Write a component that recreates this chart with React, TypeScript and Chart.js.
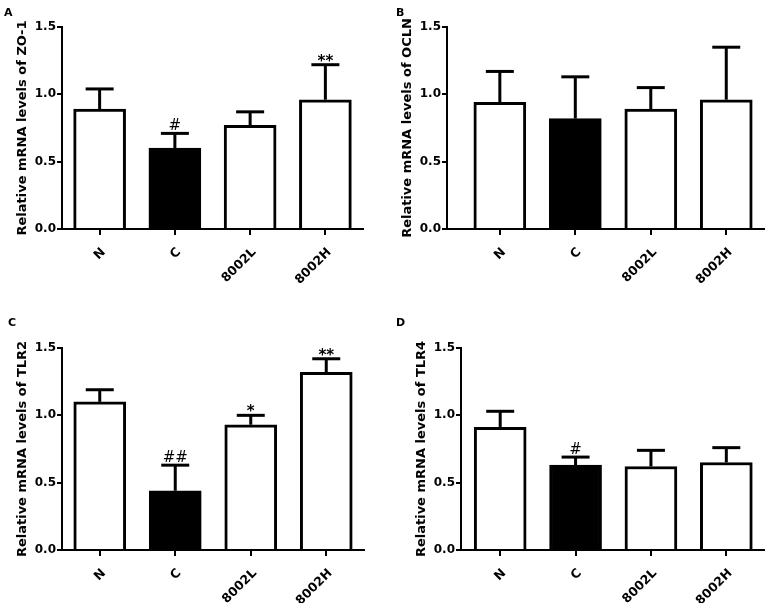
import React, { useEffect, useRef } from "react";
import { Chart, registerables } from "chart.js";

Chart.register(...registerables);

const categories = ["N", "C", "8002L", "8002H"];
const yTicks = [0, 0.5, 1.0, 1.5];
const barFills = ["#ffffff", "#000000", "#ffffff", "#ffffff"];

const zo1Means = [0.89, 0.6, 0.77, 0.96];
const zo1Upper = [1.04, 0.71, 0.87, 1.22];
const zo1Marks = ["", "#", "", "**"];

const oclnMeans = [0.94, 0.82, 0.89, 0.96];
const oclnUpper = [1.17, 1.13, 1.05, 1.35];
const oclnMarks = ["", "", "", ""];

const tlr2Means = [1.1, 0.44, 0.93, 1.32];
const tlr2Upper = [1.19, 0.63, 1.0, 1.42];
const tlr2Marks = ["", "##", "*", "**"];

const tlr4Means = [0.91, 0.63, 0.62, 0.65];
const tlr4Upper = [1.03, 0.69, 0.74, 0.76];
const tlr4Marks = ["", "#", "", ""];

const FONT = "'DejaVu Sans', 'Liberation Sans', Arial, sans-serif";

type Panel = {
  letter: string;
  title: string;
  means: number[];
  upper: number[];
  marks: string[];
  left: number;
  top: number;
  width: number;
  height: number;
  padTop: number;
  padRight: number;
  yWidth: number;
  xHeight: number;
  titleX: number;
  xMin: number;
  letterX: number;
  letterY: number;
};

const panels: Panel[] = [
  {
    letter: "A", title: "Relative mRNA levels of ZO-1",
    means: zo1Means, upper: zo1Upper, marks: zo1Marks,
    left: 0, top: 0, width: 384, height: 300,
    padTop: 27, padRight: 21, yWidth: 62, xHeight: 71, titleX: 22.5, xMin: -0.5,
    letterX: 4, letterY: 16,
  },
  {
    letter: "B", title: "Relative mRNA levels of OCLN",
    means: oclnMeans, upper: oclnUpper, marks: oclnMarks,
    left: 384, top: 0, width: 383, height: 300,
    padTop: 27, padRight: 3, yWidth: 63, xHeight: 71, titleX: 23.5, xMin: -0.7,
    letterX: 12, letterY: 16,
  },
  {
    letter: "C", title: "Relative mRNA levels of TLR2",
    means: tlr2Means, upper: tlr2Upper, marks: tlr2Marks,
    left: 0, top: 300, width: 384, height: 303,
    padTop: 48, padRight: 20, yWidth: 62, xHeight: 53, titleX: 22.5, xMin: -0.5,
    letterX: 8, letterY: 26,
  },
  {
    letter: "D", title: "Relative mRNA levels of TLR4",
    means: tlr4Means, upper: tlr4Upper, marks: tlr4Marks,
    left: 384, top: 300, width: 383, height: 303,
    padTop: 48, padRight: 3, yWidth: 77, xHeight: 53, titleX: 37.5, xMin: -0.52,
    letterX: 12, letterY: 26,
  },
];

function PanelChart({ p }: { p: Panel }) {
  const ref = useRef<HTMLCanvasElement>(null);
  useEffect(() => {
    if (!ref.current) return;
    const titleSize = 13;
    const titleLH = titleSize * 1.2;
    const overlay = {
      id: "errorBarsAndMarks",
      afterDatasetsDraw(chart: any) {
        const ctx = chart.ctx;
        const xs = chart.scales.x;
        const ys = chart.scales.y;
        ctx.save();
        ctx.strokeStyle = "#000";
        ctx.fillStyle = "#000";
        ctx.lineWidth = 3;
        ctx.lineCap = "butt";
        p.means.forEach((m, i) => {
          const x = xs.getPixelForValue(i);
          const yb = ys.getPixelForValue(m);
          const yt = ys.getPixelForValue(p.upper[i]);
          ctx.beginPath();
          ctx.moveTo(x, yb);
          ctx.lineTo(x, yt);
          ctx.stroke();
          ctx.beginPath();
          ctx.moveTo(x - 14, yt);
          ctx.lineTo(x + 14, yt);
          ctx.stroke();
          const mk = p.marks[i];
          if (mk) {
            ctx.textAlign = "center";
            ctx.textBaseline = "alphabetic";
            if (mk.startsWith("*")) {
              ctx.font = `bold 15px ${FONT}`;
              ctx.fillText(mk, x, yt + 1);
            } else {
              ctx.font = `15px ${FONT}`;
              ctx.fillText(mk, x, yt - 3);
            }
          }
        });
        ctx.font = `bold 11px ${FONT}`;
        ctx.textAlign = "left";
        ctx.textBaseline = "alphabetic";
        ctx.fillText(p.letter, p.letterX, p.letterY);
        ctx.restore();
      },
    };
    const chart = new Chart(ref.current, {
      type: "bar",
      data: {
        datasets: [
          {
            data: p.means.map((v, i) => ({ x: i, y: v })),
            backgroundColor: barFills,
            borderColor: "#000",
            borderWidth: 3,
            barThickness: 52,
            borderSkipped: "start",
          },
        ],
      },
      options: {
        responsive: false,
        animation: false,
        devicePixelRatio: 1,
        layout: { padding: { top: p.padTop, right: p.padRight, left: 0, bottom: 0 } },
        plugins: { legend: { display: false }, tooltip: { enabled: false } },
        scales: {
          x: {
            type: "linear",
            offset: false,
            min: p.xMin,
            max: 3.5,
            afterBuildTicks: (s: any) => {
              s.ticks = categories.map((_, i) => ({ value: i }));
            },
            afterFit: (s: any) => {
              s.height = p.xHeight;
            },
            ticks: {
              autoSkip: false,
              minRotation: 45,
              maxRotation: 45,
              padding: 10,
              labelOffset: 4,
              color: "#000",
              font: { family: FONT, size: 12.5, weight: "bold" },
              callback: (v: any) => categories[v] ?? "",
            },
            grid: { offset: false, drawOnChartArea: false, drawTicks: true, tickLength: 6, color: "#000", lineWidth: 2 },
            border: { display: true, color: "#000", width: 2 },
          },
          y: {
            type: "linear",
            min: 0,
            max: 1.5,
            afterBuildTicks: (s: any) => {
              s.ticks = yTicks.map((v) => ({ value: v }));
            },
            afterFit: (s: any) => {
              s.width = p.yWidth;
            },
            ticks: {
              padding: 1,
              color: "#000",
              font: { family: FONT, size: 12, weight: "bold" },
              callback: (v: any) => Number(v).toFixed(1),
            },
            grid: { drawOnChartArea: false, drawTicks: true, tickLength: 5, color: "#000", lineWidth: 2 },
            border: { display: true, color: "#000", width: 2 },
            title: {
              display: true,
              text: p.title,
              color: "#000",
              font: { family: FONT, size: titleSize, weight: "bold" },
              padding: { top: p.titleX - titleLH / 2, bottom: 0 },
            },
          },
        },
      } as any,
      plugins: [overlay],
    });
    return () => chart.destroy();
  }, [p]);
  return (
    <canvas
      ref={ref}
      width={p.width}
      height={p.height}
      style={{ position: "absolute", left: p.left, top: p.top, width: p.width, height: p.height }}
    />
  );
}

export default function App() {
  return (
    <div style={{ position: "absolute", left: 0, top: 0, width: 767, height: 603, background: "#fff" }}>
      {panels.map((p) => (
        <PanelChart key={p.letter} p={p} />
      ))}
    </div>
  );
}
